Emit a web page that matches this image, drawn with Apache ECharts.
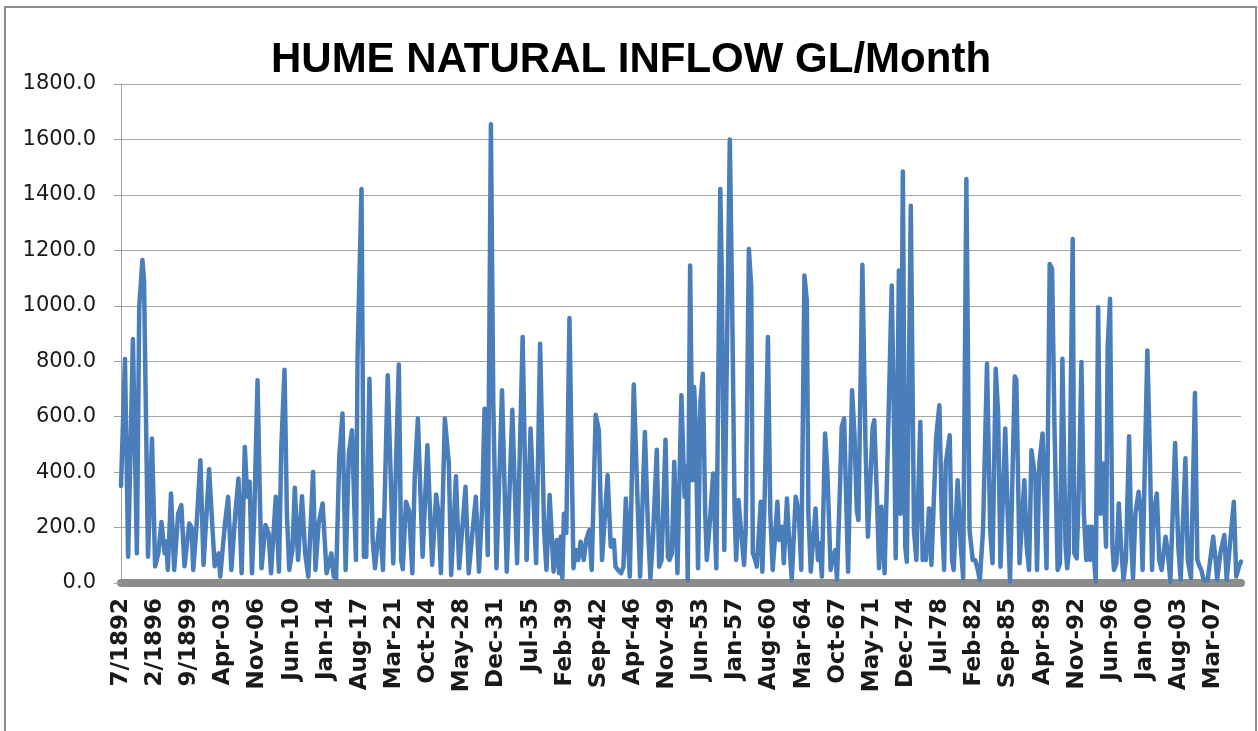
<!DOCTYPE html>
<html>
<head>
<meta charset="utf-8">
<title>Hume natural inflow</title>
<script src="https://cdn.jsdelivr.net/npm/echarts/dist/echarts.min.js"></script>
<style>
  html, body { margin: 0; padding: 0; background: #fff; }
  #chart { width: 1258px; height: 731px; }
</style>
</head>
<body>
<div id="chart"></div>
<script>
// monthly categories, Jul 1892 .. Feb 2010
const MONTHS = ['Jan','Feb','Mar','Apr','May','Jun','Jul','Aug','Sep','Oct','Nov','Dec'];
const START_YEAR = 1892, START_MONTH = 6, MONTH_COUNT = 1412;

// [month index from 7/1892, GL]
const readings = [
  [0,350],[5,808],[9,95],[15,880],[20,107],[23,1000],[27,1165],[29,1090],[34,95],[39,521],[43,60],[47,107],[51,220],[55,107],[57,150],[59,47],[63,323],[67,47],[72,250],[76,281],[80,60],[86,215],[89,200],[91,47],[95,200],[100,443],[104,65],[111,410],[118,60],[123,107],
  [125,23],[131,215],[135,311],[139,47],[144,250],[148,377],[152,35],[156,491],[159,311],[162,365],[165,35],[168,250],[172,731],[175,300],[177,53],[182,209],[186,179],[189,35],[195,311],[199,41],[202,491],[206,769],[209,250],[212,47],[216,119],[219,344],[223,83],[228,313],[232,107],[236,23],[242,400],[245,47],[249,215],[254,287],
  [259,35],[265,107],[268,23],[271,17],[275,455],[279,611],[283,47],[287,467],[291,551],[296,83],[298,815],[303,1421],[306,95],[309,95],[313,737],[317,155],[320,53],[326,227],[330,47],[336,749],[343,71],[350,788],[353,83],[355,50],[359,293],[363,260],[367,35],[370,377],[374,593],[380,95],[386,497],
  [392,65],[397,319],[400,250],[403,35],[408,593],[413,431],[416,29],[422,385],[426,53],[434,347],[438,35],[447,311],[451,41],[455,275],[458,629],[462,101],[466,1655],[469,650],[473,53],[480,695],[486,41],[493,625],[499,71],[506,887],[511,83],[516,557],
  [523,71],[528,863],[533,191],[536,47],[540,317],[545,41],[549,155],[552,35],[554,167],[556,17],[558,250],[561,180],[565,956],[570,53],[573,119],[576,83],[579,149],[583,83],[586,155],[590,191],[593,47],[598,607],[602,551],[606,83],[613,389],[617,131],[621,155],[623,59],[626,47],[630,35],[633,59],[636,305],[641,23],[646,716],
  [651,275],[654,23],[660,545],[664,191],[667,17],[670,155],[675,481],[678,59],[681,83],[686,517],[689,95],[691,83],[694,107],[697,437],[701,35],[706,677],[710,311],[712,419],[714,11],[717,1145],[720,371],[722,707],[724,575],[727,53],[730,653],[733,755],[736,250],[738,83],[742,227],[746,395],[750,53],[755,1421],[757,1091],[760,119],[767,1600],[770,995],[773,263],[775,83],[778,299],
  [780,227],[785,65],[787,191],[791,1205],[794,1067],[796,107],[799,83],[801,59],[806,293],[808,41],[811,317],[815,887],[818,250],[821,47],[827,293],[829,155],[833,203],[835,71],[839,305],[841,191],[845,11],[850,311],[854,250],[857,47],[861,1109],[864,1019],[866,250],[869,41],[875,269],[878,83],[880,143],[883,23],[887,539],[890,395],[894,47],[897,95],[900,119],[902,11],[906,365],[908,563],
  [911,593],[916,41],[921,695],[924,539],[927,263],[929,227],[934,1148],[938,490],[941,167],[947,563],[949,587],[953,250],[955,53],[958,275],[962,35],[966,490],[971,1073],[974,539],[976,89],[980,1127],[982,250],[985,1484],[988,131],[990,77],[995,1361],[999,191],[1002,83],[1007,581],[1010,83],[1012,107],[1014,83],[1018,269],[1021,65],[1027,527],[1031,641],[1034,250],[1037,47],[1039,431],
  [1044,533],[1047,83],[1049,47],[1054,371],[1058,131],[1061,17],[1065,1457],[1069,191],[1073,83],[1076,83],[1079,53],[1082,11],[1086,191],[1091,791],[1095,191],[1098,71],[1102,773],[1105,611],[1108,59],[1114,557],[1117,250],[1120,5],[1126,745],[1128,731],[1132,71],[1138,371],[1141,131],[1144,47],[1147,479],[1152,371],[1154,47],[1157,431],[1161,539],[1164,250],[1166,53],[1170,1151],
  [1173,1133],[1176,563],[1180,47],[1183,71],[1186,809],[1190,131],[1192,53],[1194,107],[1199,1241],[1201,107],[1204,89],[1207,371],[1210,797],[1213,250],[1216,83],[1219,203],[1221,83],[1223,203],[1228,5],[1231,995],[1234,250],[1237,431],[1241,131],[1243,851],[1246,1025],[1249,131],[1251,47],[1254,71],[1257,287],[1260,131],[1263,11],[1266,83],[1270,529],[1273,131],[1275,17],[1278,250],[1282,329],[1285,250],[1287,47],[1293,839],[1296,491],[1299,47],[1301,250],
  [1305,323],[1308,83],[1311,47],[1316,167],[1319,107],[1322,5],[1328,505],[1332,131],[1335,11],[1341,450],[1344,83],[1348,17],[1353,685],[1356,83],[1359,59],[1361,47],[1364,11],[1369,11],[1376,167],[1379,83],[1381,11],[1385,107],[1390,173],[1393,11],[1402,293],[1405,23],[1409,65],[1411,77]
];

// Excel kept the pre-1900 dates as text, hence two label styles
const categories = [];
for (let i = 0; i < MONTH_COUNT; i++) {
  const y = START_YEAR + Math.floor((START_MONTH + i) / 12);
  const m = (START_MONTH + i) % 12;
  categories.push(y < 1900 ? (m + 1) + '/' + y : MONTHS[m] + '-' + String(y % 100).padStart(2, '0'));
}

const chart = echarts.init(document.getElementById('chart'));
chart.setOption({
  animation: false,
  backgroundColor: '#fff',
  grid: { left: 121, right: 17, top: 84, bottom: 148 },
  graphic: [
    {
      type: 'rect', silent: true,
      shape: { x: 5, y: 7, width: 1251, height: 740 },
      style: { fill: 'none', stroke: '#8c8c8c', lineWidth: 2 }
    },
    {
      type: 'text', x: 631, y: 60,
      style: {
        text: 'HUME NATURAL INFLOW GL/Month',
        font: 'bold 42px "Liberation Sans"',
        fill: '#000', textAlign: 'center', textVerticalAlign: 'middle'
      }
    }
  ],
  xAxis: {
    type: 'category',
    data: categories,
    boundaryGap: false,
    offset: 3,
    axisLine: { lineStyle: { color: '#8c8c8c', width: 8 } },
    axisTick: { show: false },
    axisLabel: {
      interval: 42, rotate: 90, margin: 12, padding: [10, 0, 0, 0],
      fontFamily: 'DejaVu Sans', fontWeight: 'bold', fontSize: 23, color: '#1a1a1a'
    },
    splitLine: { show: false }
  },
  yAxis: {
    type: 'value',
    min: 0, max: 1800, interval: 200,
    axisLine: { show: true, lineStyle: { color: '#a0a0a0', width: 1 } },
    axisTick: { show: true, length: 7, lineStyle: { color: '#a0a0a0' } },
    axisLabel: {
      margin: 25, fontFamily: 'DejaVu Sans', fontSize: 21, color: '#1a1a1a',
      formatter: v => v.toFixed(1)
    },
    splitLine: { lineStyle: { color: '#a6a6a6', width: 1 } }
  },
  series: [{
    type: 'line',
    data: readings,
    showSymbol: false,
    lineStyle: { color: '#4a7ebb', width: 4.5, join: 'round', cap: 'round' },
    z: 1
  }]
});
</script>
</body>
</html>
